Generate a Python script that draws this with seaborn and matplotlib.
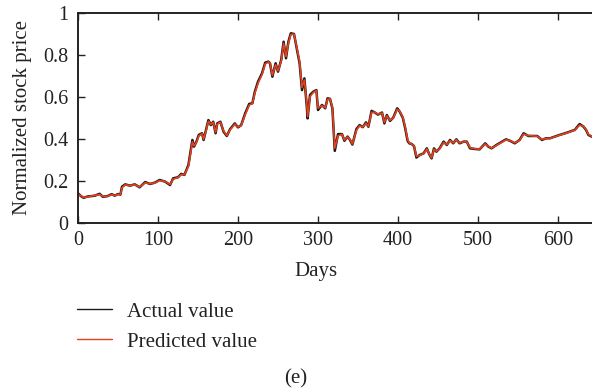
import matplotlib
matplotlib.use("Agg")
import matplotlib.pyplot as plt
import seaborn as sns
import pandas as pd
from matplotlib.ticker import FuncFormatter

# Trading days and normalized closing prices
days = [0, 4, 7, 12, 17, 21, 27, 31, 37, 42, 46, 50, 53, 55, 59, 65, 71, 77, 84, 90,
        96, 102, 109, 115, 119, 125, 129, 133, 138, 143, 145, 148, 151, 155, 157, 160, 163, 166, 169, 172,
        174, 178, 182, 186, 190, 196, 200, 204, 209, 214, 218, 221, 225, 230, 234, 238, 240, 243, 247, 250,
        254, 257, 260, 263, 266, 270, 273, 277, 280, 283, 286, 287, 290, 294, 298, 300, 305, 309, 312, 315,
        318, 321, 325, 330, 333, 337, 340, 343, 348, 352, 356, 360, 363, 367, 371, 375, 380, 383, 386, 390,
        394, 399, 402, 406, 409, 412, 414, 417, 420, 423, 427, 432, 436, 439, 442, 445, 448, 452, 457, 461,
        465, 469, 473, 477, 482, 486, 490, 496, 502, 509, 513, 517, 523, 530, 535, 540, 546, 552, 557, 563,
        569, 574, 580, 585, 590, 596, 602, 609, 615, 621, 627, 632, 635, 638, 642]

actual = [0.139, 0.125, 0.118, 0.124, 0.126, 0.128, 0.137, 0.123, 0.126, 0.135, 0.128, 0.136, 0.133, 0.171, 0.182, 0.176, 0.182, 0.168, 0.193, 0.184,
          0.190, 0.203, 0.195, 0.179, 0.211, 0.216, 0.232, 0.227, 0.274, 0.394, 0.362, 0.386, 0.418, 0.426, 0.394, 0.442, 0.489, 0.465, 0.481, 0.426,
          0.473, 0.481, 0.433, 0.413, 0.445, 0.473, 0.454, 0.465, 0.521, 0.566, 0.569, 0.624, 0.672, 0.712, 0.763, 0.768, 0.760, 0.696, 0.760, 0.720,
          0.776, 0.863, 0.784, 0.863, 0.903, 0.900, 0.839, 0.760, 0.632, 0.688, 0.553, 0.497, 0.609, 0.624, 0.632, 0.537, 0.561, 0.545, 0.593, 0.590,
          0.545, 0.342, 0.422, 0.422, 0.390, 0.410, 0.394, 0.372, 0.446, 0.465, 0.455, 0.478, 0.457, 0.533, 0.525, 0.515, 0.525, 0.473, 0.513, 0.485,
          0.500, 0.545, 0.530, 0.500, 0.450, 0.390, 0.378, 0.375, 0.365, 0.310, 0.322, 0.330, 0.354, 0.326, 0.306, 0.354, 0.338, 0.354, 0.386, 0.370,
          0.394, 0.378, 0.397, 0.378, 0.386, 0.386, 0.354, 0.351, 0.349, 0.378, 0.362, 0.354, 0.370, 0.386, 0.397, 0.390, 0.378, 0.394, 0.426, 0.413,
          0.413, 0.413, 0.394, 0.402, 0.402, 0.410, 0.418, 0.426, 0.434, 0.442, 0.470, 0.457, 0.442, 0.418, 0.410]

predicted = [0.136, 0.127, 0.120, 0.122, 0.127, 0.129, 0.134, 0.125, 0.125, 0.133, 0.129, 0.134, 0.134, 0.166, 0.180, 0.177, 0.180, 0.170, 0.190, 0.185,
             0.189, 0.200, 0.196, 0.182, 0.207, 0.215, 0.229, 0.228, 0.268, 0.385, 0.366, 0.383, 0.413, 0.424, 0.398, 0.437, 0.483, 0.468, 0.478, 0.431,
             0.470, 0.479, 0.437, 0.415, 0.442, 0.470, 0.456, 0.463, 0.515, 0.560, 0.568, 0.617, 0.665, 0.706, 0.757, 0.766, 0.761, 0.703, 0.753, 0.724,
             0.770, 0.855, 0.792, 0.856, 0.897, 0.899, 0.845, 0.768, 0.645, 0.680, 0.565, 0.505, 0.600, 0.621, 0.630, 0.546, 0.558, 0.547, 0.588, 0.590,
             0.550, 0.355, 0.414, 0.421, 0.393, 0.408, 0.396, 0.375, 0.440, 0.462, 0.456, 0.474, 0.459, 0.526, 0.526, 0.517, 0.523, 0.478, 0.509, 0.488,
             0.498, 0.540, 0.532, 0.503, 0.456, 0.396, 0.380, 0.375, 0.366, 0.316, 0.320, 0.329, 0.351, 0.328, 0.309, 0.350, 0.340, 0.352, 0.382, 0.372,
             0.391, 0.380, 0.395, 0.380, 0.385, 0.386, 0.357, 0.352, 0.350, 0.375, 0.364, 0.355, 0.368, 0.384, 0.395, 0.391, 0.380, 0.392, 0.422, 0.415,
             0.413, 0.412, 0.396, 0.401, 0.402, 0.409, 0.417, 0.425, 0.433, 0.441, 0.465, 0.459, 0.444, 0.421, 0.411]

x_ticks = [0, 100, 200, 300, 400, 500, 600]
y_ticks = [0, 0.2, 0.4, 0.6, 0.8, 1.0]

df = pd.DataFrame({"Days": days, "Actual value": actual, "Predicted value": predicted})

sns.set_theme(style="white")
plt.rcParams["font.family"] = ["Liberation Serif", "DejaVu Serif"]

INK = "#222222"
FS_TICK = 14.5
FS_TEXT = 15

W, H = 592, 391
fig = plt.figure(figsize=(W / 100, H / 100), dpi=100)
ax_l, ax_r, ax_top, ax_bot = 78, 592, 13, 222.5
ax = fig.add_axes([ax_l / W, 1 - ax_bot / H, (ax_r - ax_l) / W, (ax_bot - ax_top) / H])

sns.lineplot(data=df, x="Days", y="Actual value", ax=ax, color="#1a1a1a",
             linewidth=1.8, label="Actual value")
sns.lineplot(data=df, x="Days", y="Predicted value", ax=ax, color="#e8401c",
             linewidth=1.2, label="Predicted value")

ax.set_xlim(0, (ax_r - ax_l) / 0.8)
ax.set_ylim(0, 1)
ax.set_xticks(x_ticks)
ax.set_yticks(y_ticks)
ax.yaxis.set_major_formatter(FuncFormatter(lambda v, p: f"{v:g}"))

for side in ("left", "bottom", "top"):
    ax.spines[side].set_visible(True)
    ax.spines[side].set_color(INK)
    ax.spines[side].set_linewidth(1.4)
ax.spines["right"].set_visible(False)

ax.tick_params(axis="x", direction="in", length=5, width=1, color=INK,
               top=True, bottom=True, labelsize=FS_TICK, pad=6, labelcolor=INK)
ax.tick_params(axis="y", direction="in", length=5, width=1, color=INK,
               left=True, right=False, labelsize=FS_TICK, pad=7, labelcolor=INK)

ax.set_xlabel("Days", fontsize=FS_TEXT, color=INK)
ax.set_ylabel("Normalized stock price", fontsize=FS_TEXT, color=INK)
ax.xaxis.set_label_coords((316 - ax_l) / (ax_r - ax_l), -0.19)
ax.yaxis.set_label_coords(-0.09, 0.5)

leg = ax.legend(loc="upper left", bbox_to_anchor=(77 / W, 1 - 302 / H),
                bbox_transform=fig.transFigure, frameon=False, fontsize=FS_TEXT,
                handlelength=1.7, handletextpad=0.72, labelspacing=0.5,
                borderaxespad=0, borderpad=0)
for t in leg.get_texts():
    t.set_color(INK)
for h in leg.get_lines():
    h.set_linewidth(1.0)

fig.text(296 / W, 1 - 379 / H, "(e)", ha="center", va="center", fontsize=FS_TEXT, color=INK)

fig.savefig("out.png", dpi=100)
